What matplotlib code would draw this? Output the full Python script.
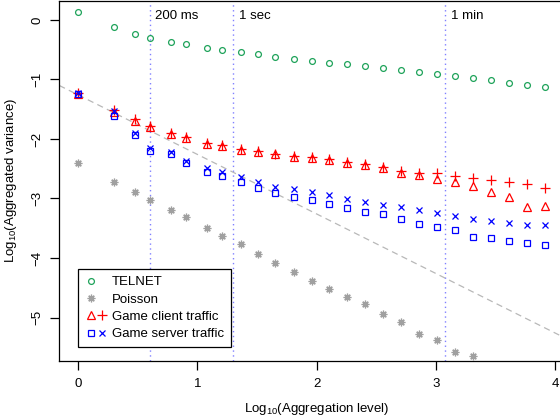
import numpy as np
import matplotlib as mpl; mpl.use("Agg")
import matplotlib.pyplot as plt
from matplotlib.lines import Line2D
from matplotlib.legend_handler import HandlerTuple

mpl.rcParams.update({"font.family": ["Liberation Sans", "DejaVu Sans"], "font.size": 9,
                     "mathtext.fontset": "custom", "mathtext.rm": "Liberation Sans"})

# aggregation levels (log10 taken for x axis)
levels = [1, 2, 3, 4, 6, 8, 12, 16, 23, 32, 45, 64, 91, 128, 181, 256, 362, 512,
          724, 1024, 1448, 2048, 2896, 4096, 5793, 8192]

telnet = [0.14, -0.12, -0.24, -0.30, -0.375, -0.41, -0.465, -0.50, -0.538, -0.577,
          -0.616, -0.655, -0.689, -0.717, -0.745, -0.778, -0.812, -0.840, -0.874,
          -0.902, -0.941, -0.969, -1.014, -1.053, -1.087, -1.121]
poisson = [-2.41, -2.717, -2.885, -3.025, -3.193, -3.316, -3.49, -3.624, -3.77, -3.933,
           -4.078, -4.241, -4.387, -4.521, -4.655, -4.78, -4.94, -5.076, -5.277,
           -5.373, -5.58, -5.647]
client_tri = [-1.25, -1.54, -1.69, -1.80, -1.92, -1.98, -2.08, -2.12, -2.185, -2.213,
              -2.257, -2.297, -2.325, -2.353, -2.398, -2.437, -2.482, -2.566, -2.605,
              -2.678, -2.729, -2.784, -2.885, -2.969, -3.137, -3.126]
client_plus = [-1.23, -1.52, -1.67, -1.78, -1.90, -1.96, -2.07, -2.10, -2.17, -2.20,
               -2.245, -2.285, -2.31, -2.34, -2.385, -2.42, -2.465, -2.533, -2.566,
               -2.577, -2.616, -2.661, -2.689, -2.717, -2.762, -2.818]
server_sq = [-1.24, -1.613, -1.933, -2.196, -2.252, -2.409, -2.549, -2.622, -2.728,
             -2.818, -2.913, -2.969, -3.03, -3.098, -3.154, -3.221, -3.266, -3.345,
             -3.429, -3.485, -3.535, -3.653, -3.67, -3.714, -3.753, -3.782]
server_x = [-1.22, -1.529, -1.894, -2.157, -2.213, -2.375, -2.493, -2.555, -2.633,
            -2.728, -2.801, -2.84, -2.89, -2.941, -3.008, -3.064, -3.109, -3.137,
            -3.193, -3.238, -3.294, -3.339, -3.373, -3.417, -3.445, -3.445]

# time markers: base interval 50 ms
marks = [(4, "200 ms"), (20, "1 sec"), (1200, "1 min")]
ref_intercept, ref_slope = -1.26, -1.0

GREEN, GRAY = "#1fa35a", "#a0a0a0"
x = np.log10(levels)

fig = plt.figure(figsize=(5.6, 4.19), dpi=100)
ax = fig.add_axes([59.3/560, 58.3/419, (574-59.3)/560, 359.7/419])
ax.set_xlim(-0.159, 4.159); ax.set_ylim(-5.726, 0.319)

for lv, lab in marks:
    ax.axvline(np.log10(lv), color="#8080ff", lw=1.0, ls=(0, (1, 2.5)), zorder=1)
    ax.text(np.log10(lv)+0.045, 0.07, lab, ha="left", va="center", fontsize=9.5)
ax.axline((0, ref_intercept), slope=ref_slope, color="#b8b8b8", lw=0.9,
          ls=(0, (5, 3.5)), zorder=1)

kw = dict(ls="none", mfc="none", zorder=3)
h_tel, = ax.plot(x, telnet, marker="o", ms=4.2, mec=GREEN, mew=0.9, **kw)
h_poi, = ax.plot(x[:len(poisson)], poisson, marker=(8, 2, 0), ms=5.5, mec=GRAY, mew=0.9, **kw)
h_ctri, = ax.plot(x, client_tri, marker="^", ms=5.8, mec="red", mew=0.9, **kw)
h_cplus, = ax.plot(x, client_plus, marker="+", ms=6.5, mec="red", mew=0.9, **kw)
h_ssq, = ax.plot(x, server_sq, marker="s", ms=4.0, mec="blue", mew=0.9, **kw)
h_sx, = ax.plot(x, server_x, marker="x", ms=4.6, mec="blue", mew=0.9, **kw)

blank = Line2D([], [], ls="none", marker="none")
leg = ax.legend([(h_tel, blank), (h_poi, blank), (h_ctri, h_cplus), (h_ssq, h_sx)],
                ["TELNET", "Poisson", "Game client traffic", "Game server traffic"],
                handler_map={tuple: HandlerTuple(ndivide=None, pad=0.0)},
                loc="lower left", bbox_to_anchor=(0.037, 0.037), borderaxespad=0,
                fancybox=False, framealpha=1, edgecolor="black", fontsize=9.5,
                handlelength=1.7, handletextpad=0.3, labelspacing=0.38, borderpad=0.55)
leg.get_frame().set_linewidth(0.9)
leg.set_zorder(5)

ax.set_xticks([0, 1, 2, 3, 4])
ax.set_yticks([0, -1, -2, -3, -4, -5])
ax.set_yticklabels(["0", "\u22121", "\u22122", "\u22123", "\u22124", "\u22125"],
                   rotation=90, va="center")
ax.tick_params(direction="out", length=6.5, width=0.9, labelsize=9.5, pad=5)
ax.tick_params(axis="x", pad=6)
for s in ax.spines.values():
    s.set_linewidth(0.9)

ax.set_xlabel("Log$_{10}$(Aggregation level)", fontsize=9.5, labelpad=8)
ax.set_ylabel("Log$_{10}$(Aggregated variance)", fontsize=9.5, labelpad=9)

fig.savefig("out.png", dpi=100)
